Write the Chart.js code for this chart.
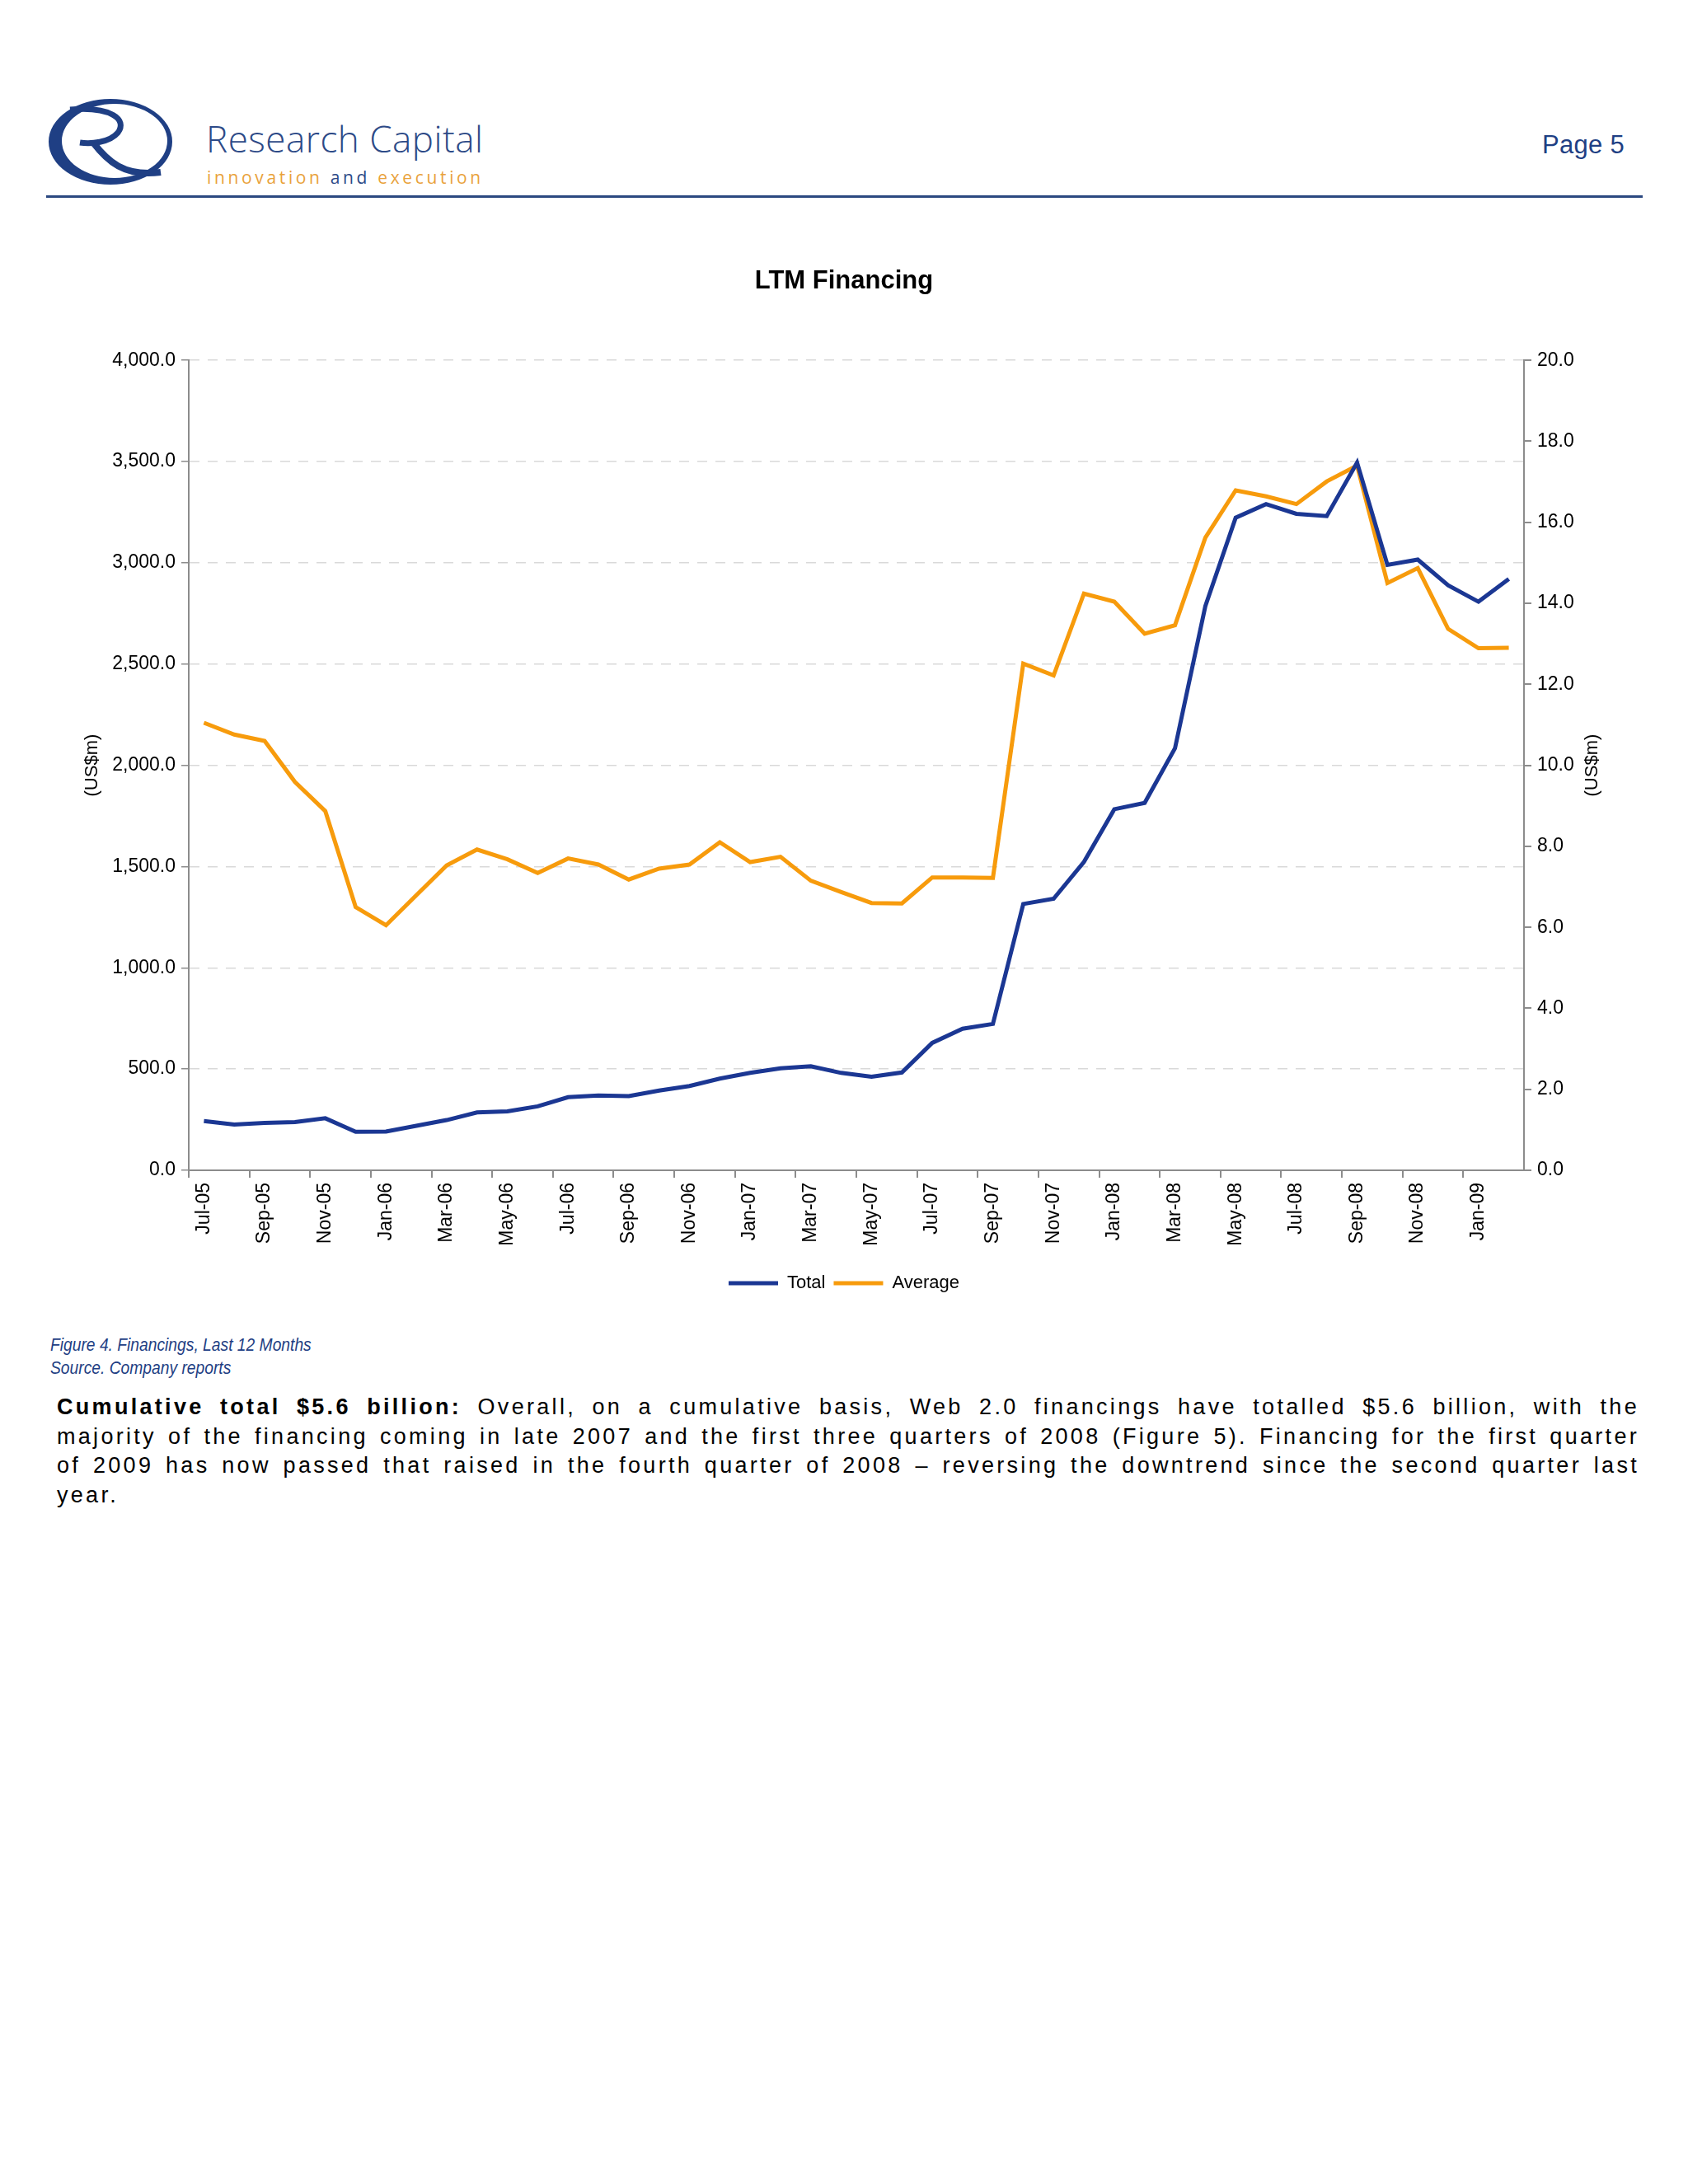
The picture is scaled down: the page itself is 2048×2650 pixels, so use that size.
<!doctype html>
<html lang="en">
<head>
  <meta charset="utf-8">
  <title>LTM Financing</title>
  <script src="https://cdn.jsdelivr.net/npm/chart.js"></script>
  <style>
    html, body { margin: 0; padding: 0; background: #fff; }
    body { width: 2048px; height: 2650px; position: relative; font-family: "Liberation Sans", Arial, sans-serif; }
    .abs { position: absolute; }
    #brand { left: 250px; top: 146px; font-family: "Open Sans", sans-serif; font-weight: 300; font-size: 44px; line-height: 1; color: #2d4a87; letter-spacing: 0.5px; }
    #tagline { left: 251px; top: 205px; font-family: "Open Sans", sans-serif; font-size: 21px; line-height: 1; letter-spacing: 3.65px; color: #e9a23b; }
    #tagline span { color: #2d4a87; }
    #page { left: 1871px; top: 160px; font-size: 31px; line-height: 1; color: #1f3f84; letter-spacing: 0.3px; }
    #rule { left: 56px; top: 237px; width: 1937px; height: 3px; background: #2b4880; }
    #chartBox { left: 0; top: 300px; width: 2048px; height: 1300px; }
    #caption { left: 61px; top: 1618px; font-style: italic; font-size: 22px; line-height: 28px; color: #1f3f84; transform: scaleX(0.875); transform-origin: left top; white-space: nowrap; }
    #para { left: 69px; top: 1690px; width: 1920px; font-size: 27px; line-height: 35.5px; letter-spacing: 3.3px; color: #000; }
    #para .ln { text-align: justify; text-align-last: justify; }
  </style>
</head>
<body>
  <svg class="abs" style="left:55px;top:115px" width="160" height="115" viewBox="0 0 160 115">
    <path fill="#1f3f84" fill-rule="evenodd"
      d="M4,57 a75,52 0 1,0 150,0 a75,52 0 1,0 -150,0 Z M20,56 a64,45 0 1,0 128,0 a64,45 0 1,0 -128,0 Z"/>
    <path d="M30,18 C80,14 100,30 88,46 C78,58 55,60 42,58" fill="none" stroke="#1f3f84" stroke-width="7"/>
    <path d="M58,58 C75,80 95,100 140,94" fill="none" stroke="#1f3f84" stroke-width="8"/>
  </svg>
  <div id="brand" class="abs">Research Capital</div>
  <div id="tagline" class="abs">innovation <span>and</span> execution</div>
  <div id="page" class="abs">Page 5</div>
  <div id="rule" class="abs"></div>

  <div id="chartBox" class="abs">
    <canvas id="grafico"></canvas>
  </div>

  <div id="caption" class="abs">Figure 4. Financings, Last 12 Months<br>Source. Company reports</div>
  <div id="para" class="abs">
    <div class="ln"><b>Cumulative total $5.6 billion:</b> Overall, on a cumulative basis, Web 2.0 financings have totalled $5.6 billion, with the</div>
    <div class="ln">majority of the financing coming in late 2007 and the first three quarters of 2008 (Figure 5). Financing for the first quarter</div>
    <div class="ln">of 2009 has now passed that raised in the fourth quarter of 2008 &ndash; reversing the downtrend since the second quarter last</div>
    <div>year.</div>
  </div>

  <script>
    // datos
    const meses = ['Jul-05','Aug-05','Sep-05','Oct-05','Nov-05','Dec-05',
      'Jan-06','Feb-06','Mar-06','Apr-06','May-06','Jun-06','Jul-06','Aug-06','Sep-06','Oct-06','Nov-06','Dec-06',
      'Jan-07','Feb-07','Mar-07','Apr-07','May-07','Jun-07','Jul-07','Aug-07','Sep-07','Oct-07','Nov-07','Dec-07',
      'Jan-08','Feb-08','Mar-08','Apr-08','May-08','Jun-08','Jul-08','Aug-08','Sep-08','Oct-08','Nov-08','Dec-08',
      'Jan-09','Feb-09'];
    const total = [243, 226, 234, 238, 257, 190, 191, 220, 248, 286, 291, 316,
      361, 369, 366, 394, 416, 453, 481, 504, 514, 481, 462, 483,
      629, 699, 723, 1315, 1341, 1523, 1783, 1814, 2084, 2786, 3223, 3290,
      3242, 3231, 3495, 2990, 3016, 2889, 2808, 2920];
    const promedio = [11.05, 10.76, 10.6, 9.59, 8.87, 6.50, 6.05, 6.79, 7.53, 7.92, 7.68, 7.34,
      7.70, 7.55, 7.18, 7.45, 7.55, 8.10, 7.61, 7.74, 7.15, 6.87, 6.60, 6.59,
      7.23, 7.23, 7.22, 12.51, 12.22, 14.24, 14.04, 13.25, 13.46, 15.62, 16.79, 16.64,
      16.45, 17.01, 17.40, 14.50, 14.87, 13.37, 12.89, 12.90];
    const ticksIzq = [0, 500, 1000, 1500, 2000, 2500, 3000, 3500, 4000];
    const ticksDer = [0, 2, 4, 6, 8, 10, 12, 14, 16, 18, 20];

    const azul = '#1b3793';
    const naranja = '#f79b0c';
    const gris = '#8c8c8c';

    Chart.defaults.font.family = '"Liberation Sans", Arial, sans-serif';
    Chart.defaults.color = '#000';

    // titulo del eje derecho, girado igual que el izquierdo
    const tituloDerecho = {
      id: 'tituloDerecho',
      afterDraw(chart) {
        const {ctx, chartArea} = chart;
        ctx.save();
        ctx.font = '22px "Liberation Sans", Arial, sans-serif';
        ctx.fillStyle = '#000';
        ctx.textAlign = 'center';
        ctx.textBaseline = 'middle';
        ctx.translate(chartArea.right + 83, (chartArea.top + chartArea.bottom) / 2);
        ctx.rotate(-Math.PI / 2);
        ctx.fillText('(US$m)', 0, 0);
        ctx.restore();
      }
    };

    const lienzo = document.getElementById('grafico');
    new Chart(lienzo, {
      type: 'line',
      data: {
        labels: meses,
        datasets: [{
          label: 'Total',
          data: total,
          yAxisID: 'y',
          borderColor: azul,
          backgroundColor: azul,
          borderWidth: 5,
          pointRadius: 0,
          tension: 0
        }, {
          label: 'Average',
          data: promedio,
          yAxisID: 'y1',
          borderColor: naranja,
          backgroundColor: naranja,
          borderWidth: 5,
          pointRadius: 0,
          tension: 0
        }]
      },
      options: {
        responsive: true,
        maintainAspectRatio: false,
        animation: false,
        layout: { padding: { left: 0, right: 0, top: 0, bottom: 22 } },
        scales: {
          x: {
            offset: true,
            grid: {
              offset: true,
              drawOnChartArea: false,
              tickLength: 9,
              lineWidth: 2,
              color: ctx => ctx.index % 2 === 0 ? gris : 'rgba(0,0,0,0)'
            },
            border: { color: gris, width: 2 },
            ticks: {
              autoSkip: false,
              minRotation: 90,
              maxRotation: 90,
              padding: 6,
              font: { size: 23 },
              callback: (v, i) => i % 2 === 0 ? meses[i] : ''
            },
            afterFit: s => { s.height = 116; }
          },
          y: {
            position: 'left',
            min: 0,
            max: 4000,
            afterBuildTicks: s => { s.ticks = ticksIzq.map(v => ({ value: v })); },
            grid: { color: '#d9d9d9', lineWidth: 1.5, tickColor: gris, tickLength: 9 },
            border: { color: gris, width: 2, dash: [12, 10] },
            ticks: {
              padding: 7,
              font: { size: 23 },
              callback: v => v.toLocaleString('en-US', { minimumFractionDigits: 1, maximumFractionDigits: 1 })
            },
            title: { display: true, text: '(US$m)', font: { size: 22 }, padding: { top: 99, bottom: 0 } },
            afterFit: s => { s.width = 229; }
          },
          y1: {
            position: 'right',
            min: 0,
            max: 20,
            afterBuildTicks: s => { s.ticks = ticksDer.map(v => ({ value: v })); },
            grid: { drawOnChartArea: false, tickColor: gris, tickLength: 9, lineWidth: 2 },
            border: { color: gris, width: 2 },
            ticks: {
              padding: 7,
              font: { size: 23 },
              callback: v => v.toFixed(1)
            },
            afterFit: s => { s.width = 199; }
          }
        },
        plugins: {
          title: {
            display: true,
            text: 'LTM Financing',
            color: '#000',
            font: { size: 31, weight: 'bold' },
            padding: { top: 23, bottom: 77 }
          },
          legend: {
            position: 'bottom',
            labels: {
              usePointStyle: true,
              pointStyle: 'line',
              pointStyleWidth: 60,
              font: { size: 22 },
              padding: 10
            }
          },
          tooltip: { enabled: false }
        }
      },
      plugins: [tituloDerecho]
    });
  </script>
</body>
</html>
